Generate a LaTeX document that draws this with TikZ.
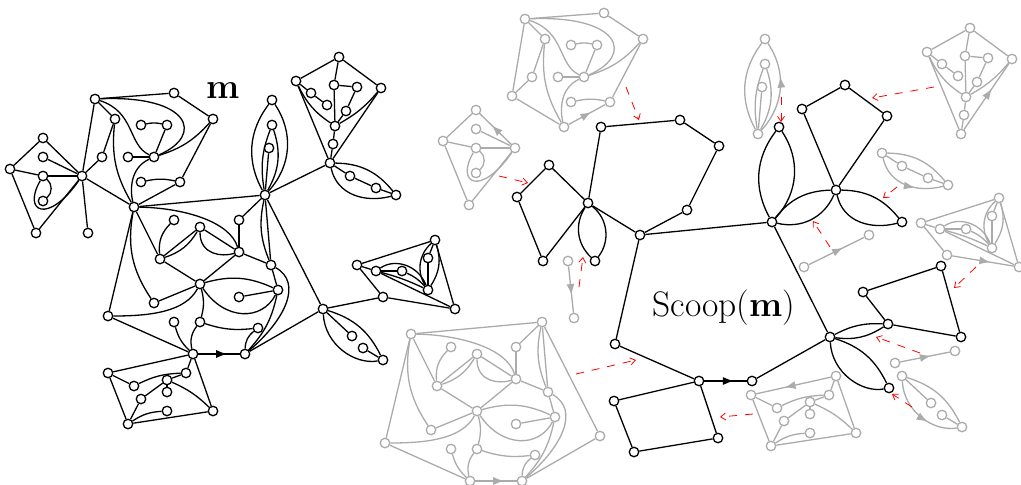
\documentclass[tikz,border=0pt]{standalone}
\usepackage{amsmath,amssymb}
\usepackage{xcolor}
\usepackage{tikz}
\usetikzlibrary{arrows.meta,decorations.markings}

\definecolor{mapgray}{HTML}{ABABAB}
\tikzset{
  vtx/.style={circle,draw,fill=white,inner sep=0pt,minimum size=9.5pt},
  ghost/.style={color=mapgray},
  midarrow/.style={postaction={decorate,decoration={markings,
      mark=at position #1 with {\arrow{Latex[length=11pt,width=8pt]}}}}},
  midarrow/.default=.62,
  glue/.style={red,line width=.8pt,dash pattern=on 8pt off 8pt,
      -{Straight Barb[length=5pt,width=7pt]}},
  biglabel/.style={font=\fontsize{35.5}{38}\selectfont,inner sep=0pt},
}

% vertex names carry this prefix, so that a piece can be drawn twice
\newcommand{\pf}{}
\newcommand{\vtxs}[1]{\foreach \n/\x/\y in {#1} \node[vtx] (\pf\n) at (\x,\y) {};}
\newcommand{\edgs}[1]{\foreach \a/\b in {#1} \draw (\pf\a) -- (\pf\b);}

% the pieces of the map; each one wants its root vertices to exist already
\newcommand{\blockA}[1][]{
  \vtxs{A/10/169,B/43/138,C/43/157,D/43/176,E/43/201,F/36/233}
  \edgs{A/B,C/G,A/D,D/G,A/F,F/G}
  \draw[#1] (\pf G) -- (\pf B);
  \draw (\pf D) to[bend left=50] (\pf E);
  \draw (\pf D) .. controls (22,212) and (48,225) .. (\pf G);
}
\newcommand{\blockB}[1][]{
  \vtxs{H/102/157,K/115/119,J/95/99,M/174/93,N/213/119,O/141/125,
      P/167/125,Q/128/157,R/154/157,S/141/182,T/180/182}
  \edgs{G/H,H/K,G/J,J/M,M/N,J/K,N/T,P/R,Q/R,G/L}
  \draw[#1] (\pf L) -- (\pf T);
  \draw (\pf J) .. controls (135,112) and (128,145) .. (\pf R);
  \draw (\pf J) .. controls (190,95) and (205,135) .. (\pf R);
  \draw (\pf N) to[bend left=15] (\pf R);
  \draw (\pf O) to[bend left=12] (\pf P);
  \draw (\pf R) .. controls (130,168) and (130,190) .. (\pf L);
  \draw (\pf K) to[bend right=18] (\pf L);
  \draw (\pf S) to[bend left=12] (\pf T);
}
\newcommand{\blockC}{
  \vtxs{V/174/220,W/200/227,X/160/259,Y/239/220,Z/239/252,a/271/265,
      b/200/284,c/154/303,d/278/290,e/239/297,f/108/316,g/174/322,h/200/322,i/258/328}
  \edgs{L/U,L/X,L/f,X/W,W/Z,X/b,Z/b,Y/U,Y/Z,Z/a,U/a,a/d,b/c,e/d,f/j,U/pt,pt/k}
  \draw[midarrow=.7] (\pf j) -- (\pf k);
  \draw (\pf L) .. controls (185,208) and (230,222) .. (\pf Z);
  \draw (\pf L) to[bend right=22] (\pf c);
  \draw (\pf X) to[bend left=25] (\pf V);
  \draw (\pf X) to[bend right=20] (\pf W);
  \draw (\pf W) .. controls (200,255) and (222,257) .. (\pf Z);
  \draw (\pf b) to[bend left=15] (\pf h);
  \draw (\pf U) to[bend right=17] (\pf a);
  \draw (\pf a) .. controls (303,283) and (285,320) .. (\pf k);
  \draw (\pf d) to[bend left=15] (\pf k);
  \draw (\pf i) to[bend right=25] (\pf k);
  \draw (\pf h) to[bend right=12] (\pf i);
  \draw (\pf h) to[bend right=25] (\pf j);
  \draw (\pf g) to[bend right=15] (\pf j);
  \draw (\pf b) .. controls (185,312) and (150,316) .. (\pf f);
  \draw (\pf b) to[bend left=20] (\pf d);
  \draw (\pf b) .. controls (225,321) and (262,321) .. (\pf d);
}
\newcommand{\blockI}[1][]{
  \vtxs{I/88/233}
  \draw[#1] (\pf G) -- (\pf I);
}
\newcommand{\blockU}[1][]{
  \vtxs{ua/272/100,ub/272/125,uc/269/148}
  \edgs{U/uc}
  \draw (\pf U) to[bend left=33] (\pf ua);
  \draw[#1] (\pf U) to[bend right=38] (\pf ua);
  \draw (\pf U) to[bend left=15] (\pf ub);
  \draw (\pf U) to[bend right=24] (\pf ub);
}
\newcommand{\blockW}[1][]{
  \vtxs{wa/339/57,wb/296/81,wc/311/93,wd/327/105,we/334/85,wf/357/87,
      wg/381/88,wh/346/111,wi/335/126,wj/333/144}
  \edgs{v/wb,v/wj,wb/wa,wa/wg,wa/we,we/wi,we/wf,wf/wh,wh/wi,wb/wc,wc/wd,wi/wj}
  \draw[#1] (\pf v) -- (\pf wg);
  \draw (\pf wb) to[bend right=15] (\pf wi);
  \draw (\pf wg) to[bend left=10] (\pf wi);
}
\newcommand{\blockX}[1][]{
  \vtxs{xa/350/176,xb/376/188,xc/396/195}
  \edgs{v/xa,xa/xb,xb/xc}
  \draw (\pf v) to[bend left=25] (\pf xc);
  \draw[#1] (\pf v) .. controls (337,195) and (365,203) .. (\pf xc);
}
\newcommand{\blockY}[1][]{
  \vtxs{ya/357/265,yb/376/271,yc/402/271,yd/428/258,ye/435/240,yf/428/290,yh/455/309}
  \edgs{ya/yb,ya/ye,ya/yg,ye/yh,yb/yh,yb/yc,ye/yd,yd/yf}
  \draw[#1] (\pf yg) -- (\pf yh);
  \draw (\pf yc) to[bend left=12] (\pf yf);
  \draw (\pf yb) .. controls (395,258) and (418,265) .. (\pf yf);
  \draw (\pf yb) to[bend left=5] (\pf yf);
  \draw (\pf ye) to[bend right=40] (\pf yf);
  \draw (\pf ye) to[bend left=25] (\pf yf);
}
\newcommand{\blockZ}[1][]{
  \vtxs{za/352/336,zb/363/348,zc/383/360}
  \edgs{pt/za,zb/zc}
  \draw (\pf pt) to[bend left=23] (\pf zc);
  \draw[#1] (\pf pt) .. controls (325,345) and (355,365) .. (\pf zc);
}
\newcommand{\blockL}[1][]{
  \vtxs{la/108/373,lb/134/386,lc/186/373,ld/167/380,le/167/392,
      lf/141/399,lg/167/411,lh/213/411,li/128/424}
  \edgs{j/lc,j/lh,la/li,li/lh,la/lb,ld/lc,ld/lf,lf/li,ld/le}
  \draw[#1] (\pf j) -- (\pf la);
  \draw (\pf lb) to[bend left=12] (\pf lc);
  \draw (\pf ld) to[bend left=10] (\pf lh);
  \draw (\pf li) to[bend left=15] (\pf lg);
}

\begin{document}
\begin{tikzpicture}[x=1pt,y=-1pt,line width=1.3pt]
\useasboundingbox (0,0) rectangle (1021,485);

% the map m
\vtxs{G/82/176,L/134/207,U/265/195,v/330/163,pt/323/309,j/193/354,k/245/354,yg/383/297}
\blockA \blockB \blockC \blockI \blockU \blockW \blockX \blockY \blockZ \blockL
\edgs{U/v,pt/yg}
\node[biglabel] (mlabel) at (223,91) {\textbf{m}};

% the scooped pieces
\begin{scope}[shift={(433,-28)},ghost]
  \renewcommand{\pf}{ga-}
  \vtxs{G/82/176}
  \blockA[midarrow]
\end{scope}
\begin{scope}[shift={(430,-80)},ghost]
  \renewcommand{\pf}{gb-}
  \vtxs{G/82/176,L/134/207}
  \blockB[midarrow]
\end{scope}
\begin{scope}[shift={(277,127)},ghost]
  \renewcommand{\pf}{gc-}
  \vtxs{L/134/207,U/265/195,pt/323/309,j/193/354,k/245/354}
  \blockC
\end{scope}
\begin{scope}[shift={(486,85)},ghost]
  \renewcommand{\pf}{gi-}
  \vtxs{G/82/176}
  \blockI[midarrow]
\end{scope}
\begin{scope}[shift={(493,-61)},ghost]
  \renewcommand{\pf}{gu-}
  \vtxs{U/265/195}
  \blockU[midarrow]
\end{scope}
\begin{scope}[shift={(631,-29)},ghost]
  \renewcommand{\pf}{gw-}
  \vtxs{v/330/163}
  \blockW[midarrow]
\end{scope}
\begin{scope}[shift={(552,-10)},ghost]
  \renewcommand{\pf}{gx-}
  \vtxs{v/330/163}
  \blockX[midarrow]
\end{scope}
\begin{scope}[shift={(539,72)},ghost]
  \renewcommand{\pf}{guv-}
  \vtxs{U/265/195,v/330/163}
  \draw[midarrow] (\pf U) -- (\pf v);
\end{scope}
\begin{scope}[shift={(572,54)},ghost]
  \renewcommand{\pf}{gpy-}
  \vtxs{pt/323/309,yg/383/297}
  \draw[midarrow] (\pf pt) -- (\pf yg);
\end{scope}
\begin{scope}[shift={(564,-42)},ghost]
  \renewcommand{\pf}{gy-}
  \vtxs{yg/383/297}
  \blockY[midarrow]
\end{scope}
\begin{scope}[shift={(579,67)},ghost]
  \renewcommand{\pf}{gz-}
  \vtxs{pt/323/309}
  \blockZ[midarrow]
\end{scope}
\begin{scope}[shift={(643,22)},ghost]
  \renewcommand{\pf}{gl-}
  \vtxs{j/193/354}
  \blockL[midarrow]
\end{scope}

% the scoop
\renewcommand{\pf}{s-}
\vtxs{sa/517/197,sb/549/165,sc/588/203,sd/543/261,se/595/261,sf/601/127,
    sg/680/120,sh/719/146,si/687/210,sj/640/235,sk/772/222,sl/779/127,sm/802/109,
    sn/845/85,so/887/116,sp/836/190,sq/902/222,sr/830/337,ss/863/292,st/941/266,
    su/961/337,sv/888/324,sw/889/388,sx/752/381,sy/699/381,sz/615/344,ta/614/401,
    tb/718/438,tc/634/452}
\edgs{sa/sb,sb/sc,sa/sd,sd/sc,sc/sf,sf/sg,sg/sh,sh/si,si/sj,sc/sj,sj/sk,sk/sr,
    sp/sm,sm/sn,sn/so,so/sp,sv/su,su/st,st/ss,ss/sv,sr/sx,sy/sz,sz/sj,sy/ta,ta/tc,tc/tb,tb/sy}
\draw[midarrow=.7] (s-sy) -- (s-sx);
\draw (s-sc) to[bend right=40] (s-se);
\draw (s-sc) to[bend left=45] (s-se);
\draw (s-sk) to[bend left=33] (s-sl);
\draw (s-sk) to[bend right=38] (s-sl);
\draw (s-sk) to[bend left=25] (s-sp);
\draw (s-sk) to[bend right=40] (s-sp);
\draw (s-sp) to[bend left=25] (s-sq);
\draw (s-sp) .. controls (843,222) and (871,230) .. (s-sq);
\draw (s-sr) to[bend left=15] (s-sv);
\draw (s-sr) to[bend right=20] (s-sv);
\draw (s-sr) to[bend left=23] (s-sw);
\draw (s-sr) .. controls (832,373) and (862,393) .. (s-sw);
\node[biglabel] (scooplabel) at (724,308) {Scoop(\textbf{m})};

% red dashed arrows
\foreach \i/\xa/\ya/\xb/\yb in {1/499/176/528/183,2/626/87/639/120,3/579/287/583/257,
    4/576/374/636/360,5/753/414/720/417,6/781/97/781/122,7/934/87/872/98,8/897/187/883/198,
    9/976/267/954/288,10/830/247/813/221,11/920/353/876/337,12/912/407/892/394} {
  \coordinate (ra\i) at (\xa,\ya);
  \coordinate (rb\i) at (\xb,\yb);
  \draw[glue] (ra\i) -- (rb\i);
}
\end{tikzpicture}
\end{document}
